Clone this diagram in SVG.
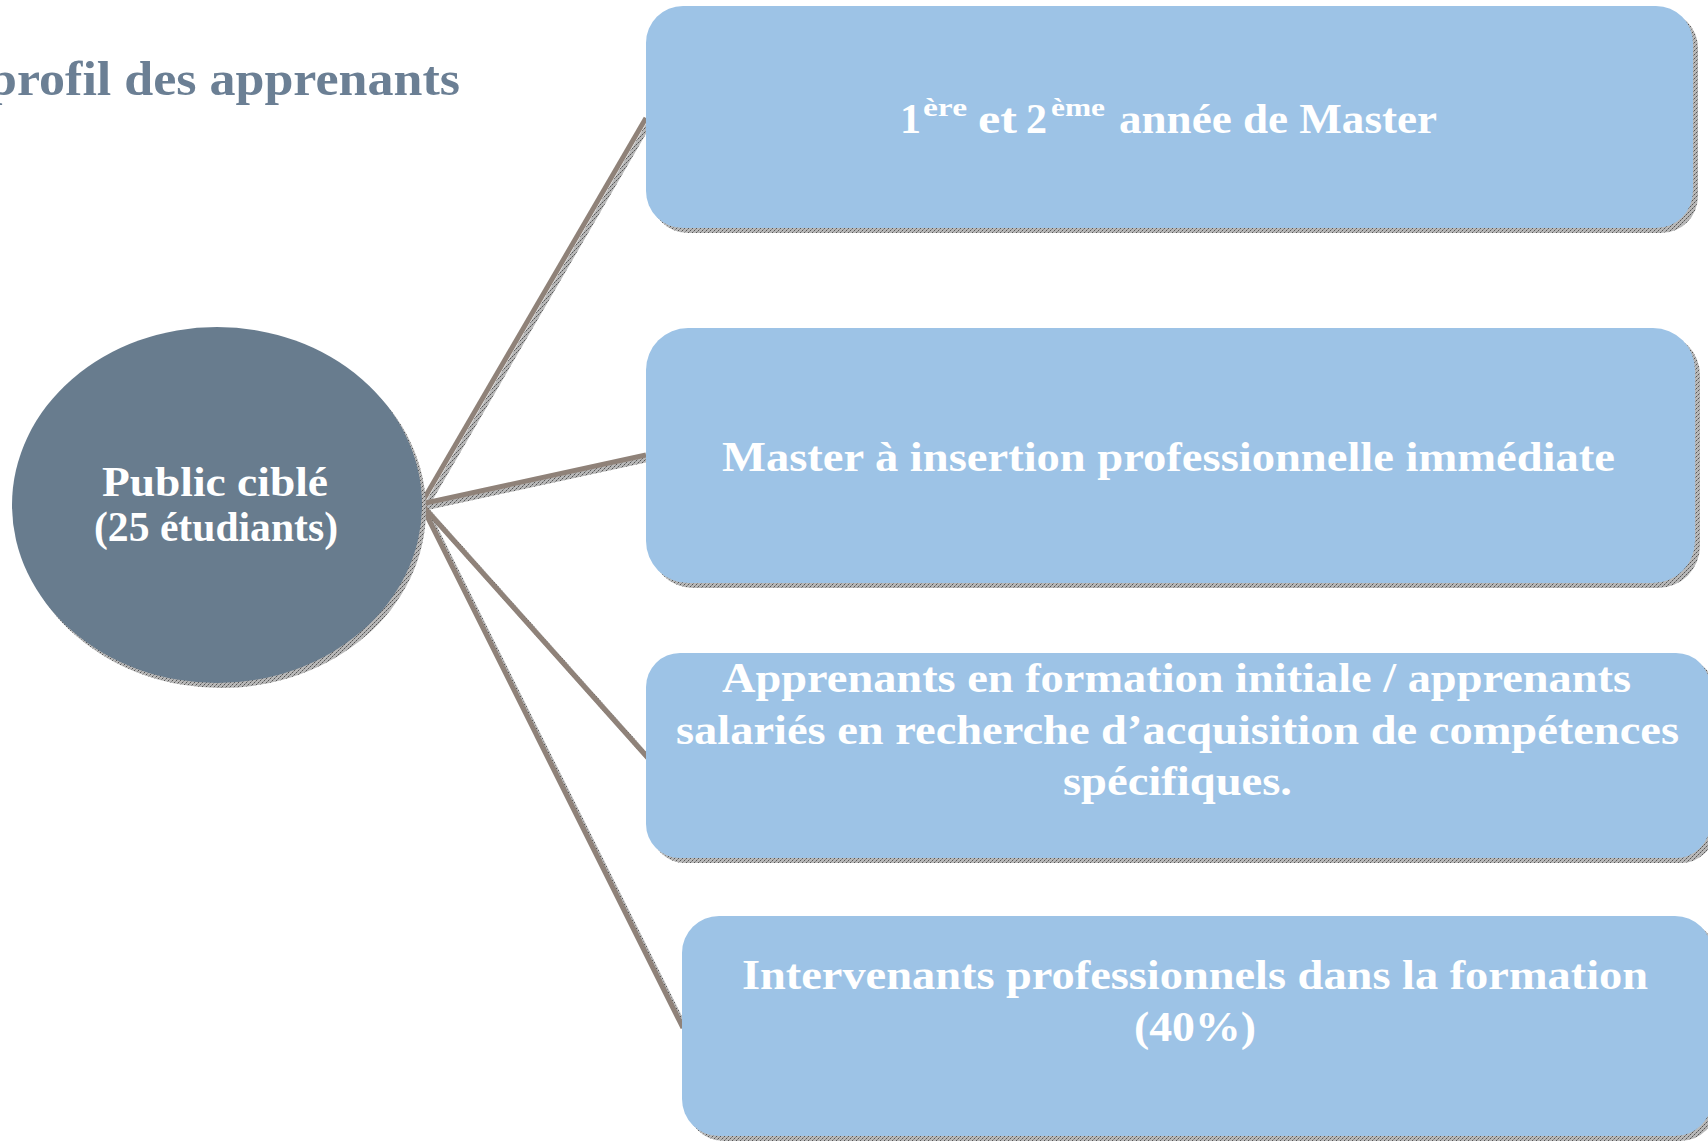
<svg xmlns="http://www.w3.org/2000/svg" width="1708" height="1143" viewBox="0 0 1708 1143">
<defs>
<pattern id="hatch" width="4" height="4" patternUnits="userSpaceOnUse">
<rect width="4" height="4" fill="#b8b8b8"/>
<rect x="0" y="0" width="1" height="1" fill="#555"/>
<rect x="2" y="2" width="1" height="1" fill="#555"/>
<rect x="1" y="3" width="1" height="1" fill="#8a8a8a"/>
<rect x="3" y="1" width="1" height="1" fill="#8a8a8a"/>
</pattern>
<style>
.box{fill:#9dc3e6}
.shadow{fill:url(#hatch)}
.lbl{font-family:"Liberation Serif","Times New Roman",serif;font-weight:bold;fill:#ffffff;font-size:42px}
.sup{font-size:26px}
.title{font-family:"Liberation Serif","Times New Roman",serif;font-weight:bold;fill:#6b7f94;font-size:49px}
.conn{stroke:#8f8279;stroke-width:5;fill:none;stroke-linecap:butt}
.connsh{stroke:url(#hatch);stroke-width:5;fill:none}
</style>
</defs>
<rect width="1708" height="1143" fill="#ffffff"/>

<g id="title">
<text class="title" x="-12" y="95" textLength="472" lengthAdjust="spacingAndGlyphs">profil des apprenants</text>
</g>

<g id="connectors">
<line class="connsh" x1="425" y1="508" x2="650" y2="122"/>
<line class="connsh" x1="425" y1="508" x2="650" y2="459"/>
<line class="connsh" x1="425" y1="508" x2="652" y2="762"/>
<line class="connsh" x1="425" y1="508" x2="687" y2="1032"/>
<line class="conn" x1="421" y1="504" x2="646" y2="118"/>
<line class="conn" x1="421" y1="504" x2="646" y2="455"/>
<line class="conn" x1="421" y1="504" x2="648" y2="758"/>
<line class="conn" x1="421" y1="504" x2="683" y2="1028"/>
</g>

<g id="node-public">
<ellipse class="shadow" cx="221" cy="510" rx="205" ry="178"/>
<ellipse cx="217" cy="505" rx="205" ry="178" fill="#687c8e"/>
<text class="lbl" x="102" y="496" textLength="226" lengthAdjust="spacingAndGlyphs">Public ciblé</text>
<text class="lbl" x="94" y="541" textLength="244" lengthAdjust="spacingAndGlyphs">(25 étudiants)</text>
</g>

<g id="node-master">
<rect class="shadow" x="651" y="11" width="1047" height="222" rx="37"/>
<rect class="box" x="646" y="6" width="1047" height="222" rx="37"/>
<text class="lbl" y="133"><tspan x="900">1</tspan><tspan class="sup" x="923" y="116" textLength="44" lengthAdjust="spacingAndGlyphs">ère</tspan><tspan x="978" y="133" textLength="39" lengthAdjust="spacingAndGlyphs">et</tspan><tspan x="1026" y="133">2</tspan><tspan class="sup" x="1051" y="116" textLength="54" lengthAdjust="spacingAndGlyphs">ème</tspan><tspan x="1119" y="133" textLength="318" lengthAdjust="spacingAndGlyphs">année de Master</tspan></text>
</g>

<g id="node-insertion">
<rect class="shadow" x="651" y="333" width="1049" height="255" rx="42"/>
<rect class="box" x="646" y="328" width="1049" height="255" rx="42"/>
<text class="lbl" x="722" y="471" textLength="893" lengthAdjust="spacingAndGlyphs">Master à insertion professionnelle immédiate</text>
</g>

<g id="node-apprenants">
<rect class="shadow" x="651" y="658" width="1064" height="205" rx="34"/>
<rect class="box" x="646" y="653" width="1064" height="205" rx="34"/>
<text class="lbl" x="722" y="692" textLength="909" lengthAdjust="spacingAndGlyphs">Apprenants en formation initiale / apprenants</text>
<text class="lbl" x="676" y="744" textLength="1003" lengthAdjust="spacingAndGlyphs">salariés en recherche d’acquisition de compétences</text>
<text class="lbl" x="1063" y="795" textLength="229" lengthAdjust="spacingAndGlyphs">spécifiques.</text>
</g>

<g id="node-intervenants">
<rect class="shadow" x="687" y="921" width="1030" height="220" rx="37"/>
<rect class="box" x="682" y="916" width="1030" height="220" rx="37"/>
<text class="lbl" x="742" y="989" textLength="906" lengthAdjust="spacingAndGlyphs">Intervenants professionnels dans la formation</text>
<text class="lbl" x="1134" y="1041" textLength="122" lengthAdjust="spacingAndGlyphs">(40%)</text>
</g>
</svg>
